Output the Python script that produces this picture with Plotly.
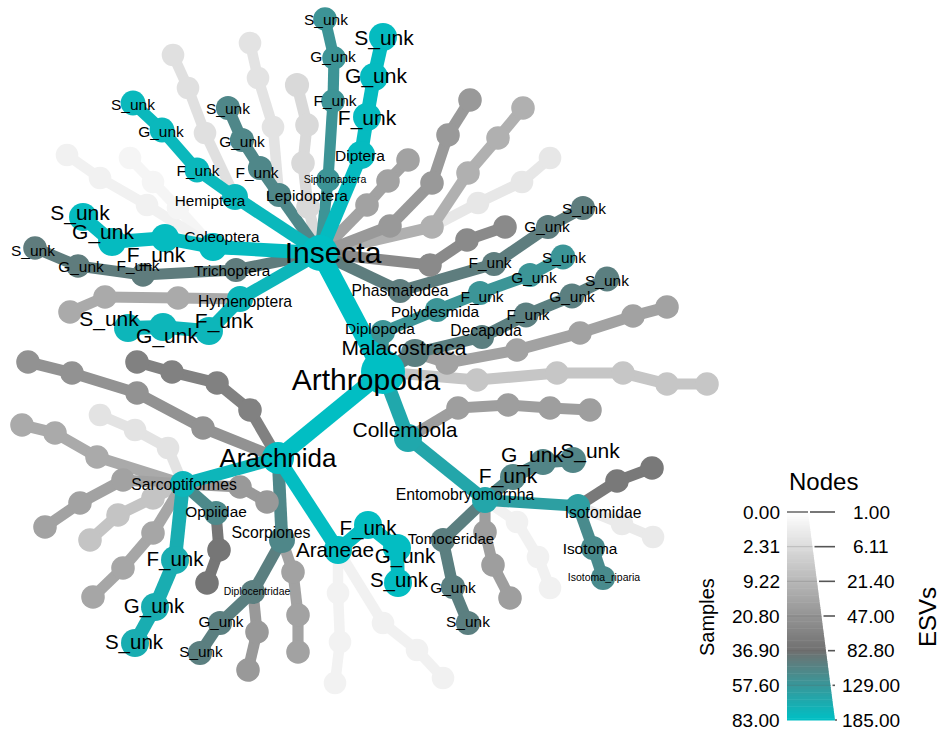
import numpy as np
import plotly.graph_objects as go

FONT = "Liberation Sans, Arial, Helvetica, sans-serif"

# ---------------- legend scales ----------------
ESV_TICKS = [1.00, 6.11, 21.40, 47.00, 82.80, 129.00, 185.00]
SAMPLE_TICKS = [0.00, 2.31, 9.22, 20.80, 36.90, 57.60, 83.00]

# ---------------- data: (id, parent, label, ESVs, Samples) ----------------
root_classes = [
    ("A", None, "Arthropoda", 185, 83),
    ("I", "A", "Insecta", 185, 38),
    ("AR", "A", "Arachnida", 184, 23),
    ("CO", "A", "Collembola", 153, 11),
    ("DP", "A", "Diplopoda", 125, 4),
    ("MA", "A", "Malacostraca", 100, 11),
    ("C1", "A", "", 15, 3), ("C2", "C1", "", 15, 3), ("C3", "C2", "", 15, 3),
    ("C4", "C3", "", 15, 3), ("C5", "C4", "", 15, 3),
]

insecta = [
    ("DI", "I", "Diptera", 180, 11), ("DI_F", "DI", "F_unk", 180, 11),
    ("DI_G", "DI_F", "G_unk", 180, 11), ("DI_S", "DI_G", "S_unk", 180, 11),
    ("SI", "I", "Siphonaptera", 125, 3), ("SI_F", "SI", "F_unk", 125, 3),
    ("SI_G", "SI_F", "G_unk", 125, 3), ("SI_S", "SI_G", "S_unk", 125, 3),
    ("LE", "I", "Lepidoptera", 110, 4), ("LE_F", "LE", "F_unk", 110, 4),
    ("LE_G", "LE_F", "G_unk", 110, 4), ("LE_S", "LE_G", "S_unk", 110, 4),
    ("LE_L1", "LE", "", 5, 2), ("LE_L2", "LE_L1", "", 5, 2), ("LE_L3", "LE_L2", "", 5, 2),
    ("HE", "I", "Hemiptera", 175, 7), ("HE_F", "HE", "F_unk", 175, 5),
    ("HE_G", "HE_F", "G_unk", 175, 5), ("HE_S", "HE_G", "S_unk", 175, 5),
    ("HE_L1", "HE", "", 5.5, 2), ("HE_L2", "HE_L1", "", 5.5, 2), ("HE_L3", "HE_L2", "", 5.5, 2),
    ("XO", "I", "", 7, 3), ("XF", "XO", "", 7, 3), ("XG", "XF", "", 7, 3), ("XS", "XG", "", 7, 4),
    ("CL", "I", "Coleoptera", 180, 11), ("CL_F", "CL", "F_unk", 180, 11),
    ("CL_G", "CL_F", "G_unk", 180, 11), ("CL_S", "CL_G", "S_unk", 180, 11),
    ("CLa1", "CL", "", 3, 2), ("CLa2", "CLa1", "", 3, 2), ("CLa3", "CLa2", "", 3, 2),
    ("CLb1", "CL", "", 2.5, 2), ("CLb2", "CLb1", "", 2.5, 2), ("CLb3", "CLb2", "", 2.5, 2),
    ("TR", "I", "Trichoptera", 97, 4), ("TR_F", "TR", "F_unk", 97, 3),
    ("TR_G", "TR_F", "G_unk", 97, 3), ("TR_S", "TR_G", "S_unk", 97, 3),
    ("HY", "I", "Hymenoptera", 172, 7), ("HY_F", "HY", "F_unk", 172, 11),
    ("HY_G", "HY_F", "G_unk", 172, 11), ("HY_S", "HY_G", "S_unk", 172, 11),
    ("HYg1", "HY", "", 31, 3), ("HYg2", "HYg1", "", 31, 3), ("HYg3", "HYg2", "", 31, 3),
    ("PH", "I", "Phasmatodea", 98, 4), ("PH_F", "PH", "F_unk", 98, 4),
    ("PH_G", "PH_F", "G_unk", 98, 4), ("PH_S", "PH_G", "S_unk", 98, 4),
    ("G1a", "I", "", 57, 3), ("G1b", "G1a", "", 57, 3), ("G1c", "G1b", "", 57, 3),
    ("G2a", "I", "", 43, 3), ("G2b", "G2a", "", 43, 3), ("G2c", "G2b", "", 43, 3), ("G2d", "G2c", "", 43, 3),
    ("G3a", "I", "", 27, 3), ("G3b", "G3a", "", 27, 3), ("G3c", "G3b", "", 27, 3), ("G3d", "G3c", "", 27, 3),
    ("G3e", "G3a", "", 4.5, 2), ("G3f", "G3e", "", 4.5, 2), ("G3g", "G3f", "", 4.5, 2),
    ("G4a", "I", "", 37, 3), ("G4b", "G4a", "", 37, 3), ("G4c", "G4b", "", 37, 3),
]

diplopoda = [
    ("PO", "DP", "Polydesmida", 126, 4), ("PO_F", "PO", "F_unk", 126, 4),
    ("PO_G", "PO_F", "G_unk", 126, 4), ("PO_S", "PO_G", "S_unk", 126, 5),
]

malacostraca = [
    ("DE", "MA", "Decapoda", 100, 4), ("DE_F", "DE", "F_unk", 100, 5),
    ("DE_G", "DE_F", "G_unk", 100, 5), ("DE_S", "DE_G", "S_unk", 100, 5),
    ("MG1", "MA", "", 37, 3), ("MG2", "MG1", "", 37, 3), ("MG3", "MG2", "", 37, 3),
    ("MG4", "MG3", "", 37, 3), ("MG5", "MG4", "", 37, 3),
]

collembola = [
    ("CG1", "CO", "", 40, 3), ("CG2", "CG1", "", 40, 3), ("CG3", "CG2", "", 40, 3), ("CG4", "CG3", "", 40, 3),
    ("EN", "CO", "Entomobryomorpha", 150, 7), ("EN_F", "EN", "F_unk", 108, 7),
    ("EN_G", "EN_F", "G_unk", 108, 7), ("EN_S", "EN_G", "S_unk", 108, 7),
    ("IS", "EN", "Isotomidae", 140, 4),
    ("ISd1", "IS", "", 74, 3), ("ISd2", "ISd1", "", 74, 3),
    ("ISl1", "IS", "", 4, 2), ("ISl2", "ISl1", "", 4, 2),
    ("IT", "IS", "Isotoma", 115, 4), ("IT_R", "IT", "Isotoma_riparia", 115, 4),
    ("TO", "EN", "Tomoceridae", 100, 4), ("TO_G", "TO", "G_unk", 100, 4), ("TO_S", "TO_G", "S_unk", 100, 4),
    ("ENg1", "EN", "", 40, 3), ("ENg2", "ENg1", "", 40, 3), ("ENg3", "ENg2", "", 40, 3),
    ("ENl1", "EN", "", 3, 2), ("ENl2", "ENl1", "", 3, 2), ("ENl3", "ENl2", "", 3, 2),
]

arachnida = [
    ("SA", "AR", "Sarcoptiformes", 172, 7), ("SA_F", "SA", "F_unk", 160, 11),
    ("SA_G", "SA_F", "G_unk", 160, 11), ("SA_S", "SA_G", "S_unk", 160, 11),
    ("OP", "SA", "Oppiidae", 112, 4), ("OPd1", "OP", "", 77, 3), ("OPd2", "OPd1", "", 77, 3),
    ("SAg1a", "SA", "", 5, 2), ("SAg1b", "SAg1a", "", 5, 2), ("SAg1c", "SAg1b", "", 5, 2),
    ("SAg2a", "SA", "", 31, 3), ("SAg2b", "SAg2a", "", 31, 3), ("SAg2c", "SAg2b", "", 31, 3),
    ("SAg3a", "SA", "", 37, 3), ("SAg3b", "SAg3a", "", 37, 3), ("SAg3c", "SAg3b", "", 37, 3),
    ("SAg4a", "SA", "", 16, 3), ("SAg4b", "SAg4a", "", 16, 3), ("SAg4c", "SAg4b", "", 16, 3),
    ("SAg5a", "SA", "", 34, 3), ("SAg5b", "SAg5a", "", 34, 3), ("SAg5c", "SAg5b", "", 34, 3),
    ("SAg6a", "SA", "", 43, 3), ("SAg6b", "SAg6a", "", 43, 3),
    ("SC", "AR", "Scorpiones", 110, 7),
    ("DC", "SC", "Diplocentridae", 100, 4), ("DC_G", "DC", "G_unk", 100, 4), ("DC_S", "DC_G", "S_unk", 100, 4),
    ("DCg1", "DC", "", 43, 3), ("DCg2", "DCg1", "", 43, 3),
    ("SCg1", "SC", "", 37, 3), ("SCg2", "SCg1", "", 37, 3), ("SCg3", "SCg2", "", 37, 3),
    ("AN", "AR", "Araneae", 182, 11), ("AN_F", "AN", "F_unk", 182, 11),
    ("AN_G", "AN_F", "G_unk", 182, 11), ("AN_S", "AN_G", "S_unk", 182, 11),
    ("ANa1", "AN", "", 2.9, 2), ("ANa2", "ANa1", "", 2.9, 2), ("ANa3", "ANa2", "", 2.9, 2),
    ("ANb1", "AN", "", 3, 2), ("ANb2", "ANb1", "", 3, 2), ("ANb3", "ANb2", "", 3, 2),
    ("AG1a", "AR", "", 66, 3), ("AG1b", "AG1a", "", 66, 3), ("AG1c", "AG1b", "", 66, 3), ("AG1d", "AG1c", "", 66, 3),
    ("AG2a", "AR", "", 49, 3), ("AG2b", "AG2a", "", 49, 3), ("AG2c", "AG2b", "", 49, 3), ("AG2d", "AG2c", "", 49, 3),
]

# ---------------- tree layout (plot units: x right, y down) ----------------
POS = {
    "A": (383, 372), "I": (320, 253), "AR": (278, 458), "CO": (408, 438),
    "DP": (383, 332), "MA": (415, 353),
    "C1": (477, 380), "C2": (557, 373), "C3": (623, 373), "C4": (667, 384), "C5": (707, 384),
    "DI": (361, 155), "DI_F": (367, 117), "DI_G": (374, 77), "DI_S": (383, 37),
    "SI": (328, 180), "SI_F": (333, 101), "SI_G": (334, 58), "SI_S": (325, 19),
    "LE": (279, 195), "LE_F": (260, 168), "LE_G": (242, 140), "LE_S": (228, 108),
    "LE_L1": (273, 127), "LE_L2": (258, 78), "LE_L3": (250, 43),
    "HE": (235, 197), "HE_F": (197, 170), "HE_G": (162, 130), "HE_S": (133, 103),
    "HE_L1": (205, 133), "HE_L2": (188, 88), "HE_L3": (173, 55),
    "XO": (308, 207), "XF": (303, 163), "XG": (307, 125), "XS": (297, 85),
    "CL": (213, 247), "CL_F": (165, 238), "CL_G": (112, 242), "CL_S": (83, 217),
    "CLa1": (147, 205), "CLa2": (100, 178), "CLa3": (67, 155),
    "CLb1": (178, 208), "CLb2": (153, 182), "CLb3": (130, 158),
    "TR": (236, 270), "TR_F": (143, 275), "TR_G": (78, 266), "TR_S": (35, 248),
    "HY": (240, 299), "HY_F": (209, 331), "HY_G": (163, 327), "HY_S": (128, 328),
    "HYg1": (178, 298), "HYg2": (105, 297), "HYg3": (70, 312),
    "PH": (400, 291), "PH_F": (494, 264), "PH_G": (548, 227), "PH_S": (583, 208),
    "G1a": (430, 265), "G1b": (467, 240), "G1c": (505, 227),
    "G2a": (390, 226), "G2b": (432, 183), "G2c": (448, 135), "G2d": (470, 100),
    "G3a": (432, 227), "G3b": (468, 173), "G3c": (498, 138), "G3d": (523, 108),
    "G3e": (478, 203), "G3f": (522, 182), "G3g": (550, 158),
    "G4a": (367, 205), "G4b": (388, 181), "G4c": (408, 160),
    "PO": (437, 310), "PO_F": (480, 293), "PO_G": (530, 275), "PO_S": (563, 257),
    "DE": (482, 337), "DE_F": (526, 315), "DE_G": (572, 296), "DE_S": (607, 279),
    "MG1": (447, 363), "MG2": (517, 350), "MG3": (580, 333), "MG4": (633, 316), "MG5": (667, 307),
    "CG1": (458, 408), "CG2": (508, 405), "CG3": (550, 408), "CG4": (590, 410),
    "EN": (485, 500), "EN_F": (513, 477), "EN_G": (543, 462), "EN_S": (573, 460),
    "IS": (578, 506), "ISd1": (617, 481), "ISd2": (652, 468),
    "ISl1": (622, 524), "ISl2": (653, 537),
    "IT": (593, 548), "IT_R": (603, 578),
    "TO": (443, 540), "TO_G": (453, 587), "TO_S": (468, 623),
    "ENg1": (485, 532), "ENg2": (493, 565), "ENg3": (510, 598),
    "ENl1": (517, 522), "ENl2": (538, 557), "ENl3": (550, 588),
    "SA": (183, 484), "SA_F": (175, 560), "SA_G": (155, 607), "SA_S": (135, 643),
    "OP": (216, 513), "OPd1": (219, 550), "OPd2": (207, 583),
    "SAg1a": (168, 448), "SAg1b": (135, 430), "SAg1c": (100, 415),
    "SAg2a": (97, 457), "SAg2b": (55, 433), "SAg2c": (22, 425),
    "SAg3a": (123, 480), "SAg3b": (80, 503), "SAg3c": (45, 527),
    "SAg4a": (153, 498), "SAg4b": (118, 515), "SAg4c": (90, 540),
    "SAg5a": (153, 533), "SAg5b": (123, 568), "SAg5c": (93, 597),
    "SAg6a": (240, 487), "SAg6b": (267, 502),
    "SC": (282, 540), "DC": (253, 592), "DC_G": (220, 623), "DC_S": (200, 653),
    "DCg1": (257, 632), "DCg2": (248, 670),
    "SCg1": (293, 572), "SCg2": (298, 615), "SCg3": (298, 652),
    "AN": (338, 550), "AN_F": (368, 525), "AN_G": (397, 548), "AN_S": (398, 583),
    "ANa1": (338, 593), "ANa2": (340, 642), "ANa3": (335, 683),
    "ANb1": (383, 623), "ANb2": (417, 650), "ANb3": (443, 678),
    "AG1a": (250, 410), "AG1b": (217, 383), "AG1c": (172, 372), "AG1d": (137, 362),
    "AG2a": (203, 428), "AG2b": (137, 393), "AG2c": (72, 373), "AG2d": (28, 362),
}

# label placement: id -> (x, y, font px)
LABEL = {
    "A": (366, 382, 30), "I": (333, 255, 30), "AR": (278, 460, 26),
    "CO": (405, 432, 21), "DP": (380, 330, 15.5), "MA": (404, 350, 21),
    "DI": (360, 157, 15.5), "DI_F": (367, 120, 21), "DI_G": (376, 78, 21), "DI_S": (384, 40, 21),
    "SI": (335, 180, 10.5), "SI_F": (335, 102, 15.5), "SI_G": (333, 58, 15.5), "SI_S": (326, 21, 15.5),
    "LE": (307, 197, 15.5), "LE_F": (257, 174, 15.5), "LE_G": (242, 143, 15.5), "LE_S": (228, 110, 15.5),
    "HE": (210, 202, 15.3), "HE_F": (198, 172, 15.5), "HE_G": (161, 133, 15.5), "HE_S": (133, 106, 15.5),
    "CL": (222, 238, 15.3), "CL_F": (156, 257, 21), "CL_G": (103, 234, 21), "CL_S": (80, 215, 21),
    "TR": (232, 272, 15.2), "TR_F": (138, 267, 15.5), "TR_G": (81, 268, 15.5), "TR_S": (33, 252, 15.5),
    "HY": (245, 303, 15.7), "HY_F": (224, 323, 21), "HY_G": (167, 338, 21), "HY_S": (109, 321, 21),
    "PH": (400, 292, 15.7), "PH_F": (490, 264, 15.5), "PH_G": (547, 228, 15.5), "PH_S": (584, 210, 15.5),
    "PO": (435, 313, 15.4), "PO_F": (482, 298, 15.5), "PO_G": (534, 279, 15.5), "PO_S": (564, 259, 15.5),
    "DE": (486, 332, 15.7), "DE_F": (528, 316, 15.5), "DE_G": (572, 298, 15.5), "DE_S": (607, 282, 15.5),
    "EN": (465, 496, 15.8), "EN_F": (508, 478, 21), "EN_G": (532, 457, 21), "EN_S": (590, 453, 21),
    "IS": (603, 514, 15.7), "IT": (590, 550, 15.4), "IT_R": (604, 578, 10.5),
    "TO": (451, 540, 15.1), "TO_G": (453, 589, 15.5), "TO_S": (468, 623, 15.5),
    "SA": (184, 486, 15.7), "SA_F": (175, 561, 20.5), "SA_G": (154, 608, 20.5), "SA_S": (134, 644, 20.5),
    "OP": (216, 513, 15.4), "SC": (271, 534, 15.8), "DC": (257, 592, 10.4),
    "DC_G": (221, 623, 15.3), "DC_S": (201, 653, 15.3),
    "AN": (335, 552, 20.7), "AN_F": (368, 530, 20.5), "AN_G": (405, 558, 20.5), "AN_S": (399, 582, 20.5),
}

# ---------------- scales ----------------
STOPS = [(0.0, (255, 255, 255)), (0.667, (112, 112, 112)), (1.0, (0, 191, 196))]
LEVELS = np.linspace(0, 1, 7)


def color_at(t):
    for (t0, c0), (t1, c1) in zip(STOPS[:-1], STOPS[1:]):
        if t <= t1:
            f = (t - t0) / (t1 - t0)
            return "rgb(%d,%d,%d)" % tuple(round(a + (b - a) * f) for a, b in zip(c0, c1))
    return "rgb(%d,%d,%d)" % STOPS[-1][1]


def esv_color(v):
    return color_at(float(np.interp(v, ESV_TICKS, LEVELS)))


def node_diam(s):
    return 19 + 25 * float(np.interp(s, SAMPLE_TICKS, LEVELS))


def edge_width(s):
    return 0.6 * node_diam(s) - 3


nodes = root_classes + insecta + diplopoda + malacostraca + collembola + arachnida
order = sorted(range(len(nodes)), key=lambda i: (nodes[i][3], nodes[i][4]))

fig = go.Figure()

# edges
for i in order:
    nid, parent, label, v, s = nodes[i]
    if parent is None:
        continue
    (x0, y0), (x1, y1) = POS[parent], POS[nid]
    fig.add_trace(go.Scatter(x=[x0, x1], y=[y0, y1], mode="lines",
                             line=dict(color=esv_color(v), width=edge_width(s)),
                             hoverinfo="skip", showlegend=False))

# nodes
fig.add_trace(go.Scatter(
    x=[POS[nodes[i][0]][0] for i in order],
    y=[POS[nodes[i][0]][1] for i in order],
    mode="markers",
    marker=dict(size=[node_diam(nodes[i][4]) for i in order],
                color=[esv_color(nodes[i][3]) for i in order],
                line=dict(width=0), opacity=1),
    text=[nodes[i][2] for i in order], hoverinfo="text", showlegend=False))

# labels
lab_nodes = [n for n in nodes if n[2]]
fig.add_trace(go.Scatter(
    x=[LABEL[n[0]][0] for n in lab_nodes],
    y=[LABEL[n[0]][1] for n in lab_nodes],
    mode="text", text=[n[2] for n in lab_nodes],
    textposition="middle center",
    textfont=dict(family=FONT, color="black", size=[LABEL[n[0]][2] for n in lab_nodes]),
    hoverinfo="skip", showlegend=False))

# ---------------- legend ----------------
shapes = []
LX0, LTOP, LBOT, RTOP, RBOT = 787, 512, 720, 808, 835
N = 120
for k in range(N):
    ya = LTOP + (LBOT - LTOP) * k / N
    yb = LTOP + (LBOT - LTOP) * (k + 1) / N + 0.6
    xa = RTOP + (RBOT - RTOP) * k / N
    xb = RTOP + (RBOT - RTOP) * (k + 1) / N
    shapes.append(dict(type="path", xref="x", yref="y",
                       path=f"M {LX0} {ya} L {xa} {ya} L {xb} {yb} L {LX0} {yb} Z",
                       fillcolor=color_at((k + 0.5) / N), line=dict(width=0), layer="above"))
tick_y = [LTOP + (LBOT - LTOP) * t for t in LEVELS]
for j, ty in enumerate(tick_y):
    xr = RTOP + (RBOT - RTOP) * j / 6
    if j == 0:
        shapes.append(dict(type="line", xref="x", yref="y", x0=LX0, x1=xr, y0=ty, y1=ty,
                           line=dict(color="#666666", width=1.5), layer="above"))
    elif j < 6:
        shapes.append(dict(type="line", xref="x", yref="y", x0=LX0, x1=xr, y0=ty, y1=ty,
                           line=dict(color="rgba(90,90,90,0.25)", width=1), layer="above"))
    shapes.append(dict(type="line", xref="x", yref="y", x0=xr + 2, x1=RBOT, y0=ty, y1=ty,
                       line=dict(color="#555555", width=1.6), layer="above"))

ann = []
for j, ty in enumerate(tick_y):
    ann.append(dict(x=782, y=ty, xref="x", yref="y", text=f"{SAMPLE_TICKS[j]:.2f}",
                    showarrow=False, xanchor="right", yanchor="middle",
                    font=dict(family=FONT, size=19, color="black")))
    ann.append(dict(x=871, y=ty, xref="x", yref="y", text=f"{ESV_TICKS[j]:.2f}",
                    showarrow=False, xanchor="center", yanchor="middle",
                    font=dict(family=FONT, size=19, color="black")))
ann.append(dict(x=823, y=481, xref="x", yref="y", text="Nodes", showarrow=False,
                xanchor="center", yanchor="middle", font=dict(family=FONT, size=24, color="black")))
ann.append(dict(x=707, y=617, xref="x", yref="y", text="Samples", showarrow=False, textangle=-90,
                xanchor="center", yanchor="middle", font=dict(family=FONT, size=20, color="black")))
ann.append(dict(x=927, y=617, xref="x", yref="y", text="ESVs", showarrow=False, textangle=-90,
                xanchor="center", yanchor="middle", font=dict(family=FONT, size=24, color="black")))

fig.update_layout(
    width=941, height=733, margin=dict(l=0, r=0, t=0, b=0),
    paper_bgcolor="white", plot_bgcolor="white",
    xaxis=dict(range=[0, 941], visible=False, fixedrange=True),
    yaxis=dict(range=[733, 0], visible=False, fixedrange=True),
    shapes=shapes, annotations=ann, showlegend=False, hovermode="closest",
)

fig.write_html("out.html", config={"displayModeBar": False})

# remove the browser's default page margin so the 941x733 figure fills the window exactly
with open("out.html", "r", encoding="utf-8") as fh:
    html = fh.read()
html = html.replace("<head>", "<head><style>html,body{margin:0;padding:0;overflow:hidden;}</style>", 1)
with open("out.html", "w", encoding="utf-8") as fh:
    fh.write(html)
